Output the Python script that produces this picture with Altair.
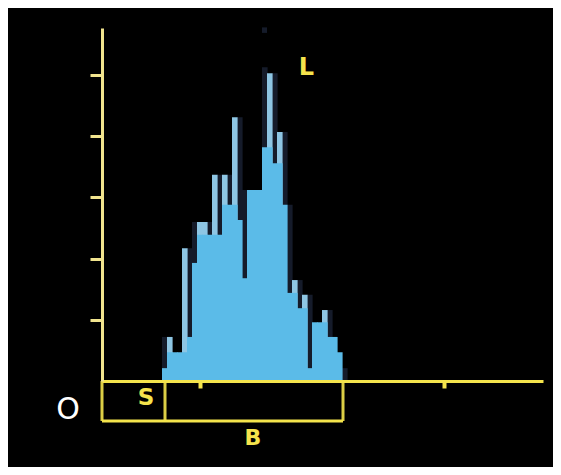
import altair as alt
import pandas as pd

# channel index (left edge) of each histogram column
channels = list(range(12, 49))
# main (blue) counts per channel
blue = [0.21, 0.47, 0.47, 0.47, 0.47, 0.72, 1.93, 2.39, 2.39, 2.39, 2.39, 2.39, 2.88, 2.88, 2.88,
        2.63, 1.68, 3.12, 3.12, 3.12, 3.82, 3.82, 3.56, 3.56, 2.88, 1.44, 1.44, 1.19, 1.19, 0.21,
        0.96, 0.96, 0.96, 0.72, 0.72, 0.47, 0.0]
# light "trace" peaks (0 = none)
light = [0, 0.72, 0, 0, 2.17, 0, 0, 2.60, 2.60, 0, 3.37, 0, 3.37, 0, 4.31,
         0, 0, 0, 0, 0, 0, 5.03, 0, 4.07, 0, 0, 1.65, 0, 1.41, 0,
         0, 0, 1.16, 0, 0, 0, 0]
# dark "afterglow" peaks (0 = none)
dark = [0.72, 0, 0, 0, 0, 2.17, 2.60, 0, 0, 2.60, 0, 3.37, 0, 3.37, 0,
        4.31, 3.12, 0, 0, 0, 5.13, 0, 5.03, 0, 4.07, 2.88, 0, 1.65, 0, 1.41,
        0, 0, 0, 1.16, 0, 0, 0.21]

# isolated dark dot above the peak
dot_channel = [32]
dot_low = [5.69]
dot_high = [5.78]

# window box under the baseline
box_left, box_split, box_right, box_bottom = 0.0, 12.6, 48.2, -0.654
y_ticks = [1, 2, 3, 4, 5]
x_ticks = [19.6, 68.4]

labels = ["L", "S", "B", "O"]
label_x = [40.9, 8.8, 30.2, -6.8]
label_y = [5.11, -0.28, -0.93, -0.47]
label_color = ["#f5e34c", "#f5e34c", "#f5e34c", "#ffffff"]
label_size = [24, 23, 22, 30]
label_weight = ["bold", "bold", "bold", "normal"]

YEL = "#f4e44c"
PALE = "#f1e48e"
OVER = 0.12  # tiny overlap so neighbouring columns join without seams

df = pd.DataFrame({"c": channels, "blue": blue, "light": light, "dark": dark})
df["c2"] = df["c"] + 1 + OVER
df["zero"] = 0.0

xs = alt.Scale(domain=[0, 88.2], nice=False, zero=False)
ys = alt.Scale(domain=[0, 5.77], nice=False, zero=False)

X = alt.X("c:Q", scale=xs, axis=alt.Axis(values=x_ticks, labels=False, title=None, grid=False,
                                         tickSize=7, tickWidth=4, tickColor=YEL, domainColor=YEL,
                                         domainWidth=3, zindex=1))
Y = alt.Y("zero:Q", scale=ys, axis=alt.Axis(values=y_ticks, labels=False, title=None, grid=False,
                                            tickSize=12, tickWidth=3, tickColor=PALE, domainColor=PALE,
                                            domainWidth=3, zindex=1))

base = alt.Chart(df)
dark_l = base.transform_filter("datum.dark > 0").mark_rect(color="#151b2a").encode(
    x=X, x2="c2:Q", y=Y, y2="dark:Q")
light_l = base.transform_filter("datum.light > 0").mark_rect(color="#8ec6e4").encode(
    x="c:Q", x2="c2:Q", y="zero:Q", y2="light:Q")
blue_l = base.transform_filter("datum.blue > 0").mark_rect(color="#5bbbe8").encode(
    x="c:Q", x2="c2:Q", y="zero:Q", y2="blue:Q")

dot_df = pd.DataFrame({"c": dot_channel, "lo": dot_low, "hi": dot_high})
dot_df["c2"] = dot_df["c"] + 1
dot_l = alt.Chart(dot_df).mark_rect(color="#151b2a").encode(x="c:Q", x2="c2:Q", y="lo:Q", y2="hi:Q")

hrule = pd.DataFrame({"x": [box_left], "x2": [box_right], "y": [box_bottom]})
vrule = pd.DataFrame({"x": [box_left, box_split, box_right], "y": [box_bottom] * 3, "y2": [0.0] * 3})
h_l = alt.Chart(hrule).mark_rule(color=YEL, strokeWidth=3).encode(x="x:Q", x2="x2:Q", y="y:Q")
v_l = alt.Chart(vrule).mark_rule(color=YEL, strokeWidth=3, opacity=0.9).encode(x="x:Q", y="y:Q", y2="y2:Q")

lab_df = pd.DataFrame({"t": labels, "x": label_x, "y": label_y, "col": label_color,
                       "size": label_size, "w": label_weight})
text_bold = alt.Chart(lab_df).transform_filter("datum.w == 'bold'").mark_text(
    font="DejaVu Sans", fontWeight="bold", align="center", baseline="middle").encode(
    x="x:Q", y="y:Q", text="t:N",
    color=alt.Color("col:N", scale=None),
    size=alt.Size("size:Q", scale=None))
text_norm = alt.Chart(lab_df).transform_filter("datum.w == 'normal'").mark_text(
    font="DejaVu Sans", fontWeight="normal", align="center", baseline="middle").encode(
    x="x:Q", y="y:Q", text="t:N",
    color=alt.Color("col:N", scale=None),
    size=alt.Size("size:Q", scale=None))

chart = alt.layer(dark_l, light_l, blue_l, dot_l, h_l, v_l, text_bold, text_norm).properties(
    width=441, height=353,
    autosize=alt.AutoSizeParams(type="none"),
    padding={"left": 94, "top": 20, "right": 10, "bottom": 86},
    background="black",
).configure_view(stroke=None)

chart.save("out.html", embed_options={"renderer": "svg", "actions": False})
